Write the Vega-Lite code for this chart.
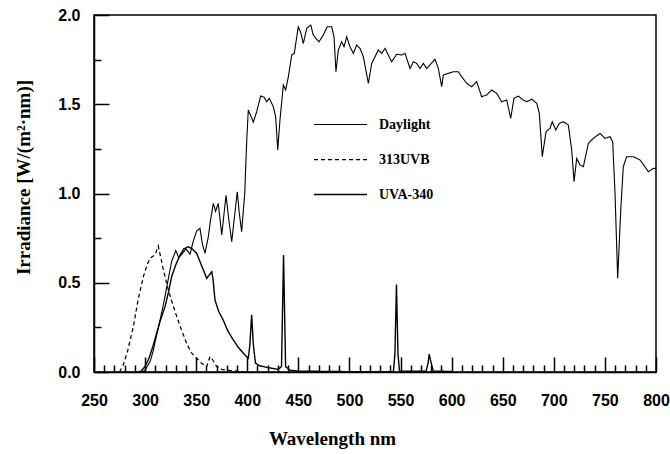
{
  "$schema": "https://vega.github.io/schema/vega-lite/v6.json",
  "width": 562,
  "height": 357,
  "autosize": {"type": "none"},
  "padding": {"left": 94, "top": 15, "right": 14, "bottom": 82},
  "background": "white",
  "config": {
    "view": {"stroke": "black", "strokeWidth": 1.5},
    "axis": {"grid": false, "ticks": true, "domainColor": "black", "domainWidth": 1.5, "tickColor": "black", "tickWidth": 1.5,
      "labelFont": "Liberation Sans", "labelFontWeight": "bold", "labelFontSize": 16, "labelColor": "black",
      "titleFont": "Liberation Serif", "titleFontWeight": "bold", "titleFontSize": 19, "titleColor": "black"},
    "legend": {"labelFont": "Liberation Serif", "labelFontWeight": "bold", "labelFontSize": 14, "labelColor": "black"}
  },
  "data": {"values": [
    {"wl":297,"v":0,"s":"Daylight"},{"wl":300,"v":0.01,"s":"Daylight"},{"wl":305,"v":0.06,"s":"Daylight"},{"wl":308,"v":0.12,"s":"Daylight"},{"wl":311,"v":0.2,"s":"Daylight"},{"wl":315,"v":0.3,"s":"Daylight"},{"wl":318,"v":0.38,"s":"Daylight"},{"wl":322,"v":0.5,"s":"Daylight"},{"wl":326,"v":0.62,"s":"Daylight"},{"wl":330,"v":0.68,"s":"Daylight"},{"wl":333,"v":0.64,"s":"Daylight"},{"wl":336,"v":0.66,"s":"Daylight"},{"wl":340,"v":0.69,"s":"Daylight"},{"wl":344,"v":0.66,"s":"Daylight"},{"wl":347,"v":0.73,"s":"Daylight"},{"wl":350.5,"v":0.79,"s":"Daylight"},{"wl":353.7,"v":0.805,"s":"Daylight"},{"wl":356,"v":0.72,"s":"Daylight"},{"wl":358.6,"v":0.665,"s":"Daylight"},{"wl":361.9,"v":0.758,"s":"Daylight"},{"wl":364,"v":0.85,"s":"Daylight"},{"wl":366.8,"v":0.945,"s":"Daylight"},{"wl":369,"v":0.9,"s":"Daylight"},{"wl":371.6,"v":0.945,"s":"Daylight"},{"wl":375,"v":0.768,"s":"Daylight"},{"wl":379.2,"v":0.99,"s":"Daylight"},{"wl":382,"v":0.85,"s":"Daylight"},{"wl":384.8,"v":0.73,"s":"Daylight"},{"wl":390.2,"v":1.01,"s":"Daylight"},{"wl":392,"v":0.9,"s":"Daylight"},{"wl":394.5,"v":0.786,"s":"Daylight"},{"wl":397.5,"v":1.0,"s":"Daylight"},{"wl":399.5,"v":1.3,"s":"Daylight"},{"wl":401,"v":1.468,"s":"Daylight"},{"wl":405.9,"v":1.4,"s":"Daylight"},{"wl":409.2,"v":1.458,"s":"Daylight"},{"wl":413.1,"v":1.546,"s":"Daylight"},{"wl":416.4,"v":1.539,"s":"Daylight"},{"wl":419,"v":1.514,"s":"Daylight"},{"wl":421.6,"v":1.533,"s":"Daylight"},{"wl":425.5,"v":1.486,"s":"Daylight"},{"wl":427.8,"v":1.43,"s":"Daylight"},{"wl":429.8,"v":1.244,"s":"Daylight"},{"wl":432,"v":1.412,"s":"Daylight"},{"wl":435.3,"v":1.608,"s":"Daylight"},{"wl":437.6,"v":1.58,"s":"Daylight"},{"wl":440.2,"v":1.654,"s":"Daylight"},{"wl":443.5,"v":1.776,"s":"Daylight"},{"wl":446,"v":1.785,"s":"Daylight"},{"wl":449.9,"v":1.934,"s":"Daylight"},{"wl":452.6,"v":1.897,"s":"Daylight"},{"wl":454.8,"v":1.84,"s":"Daylight"},{"wl":458.2,"v":1.925,"s":"Daylight"},{"wl":462.1,"v":1.944,"s":"Daylight"},{"wl":464.6,"v":1.888,"s":"Daylight"},{"wl":467,"v":1.87,"s":"Daylight"},{"wl":470.2,"v":1.85,"s":"Daylight"},{"wl":474.4,"v":1.888,"s":"Daylight"},{"wl":478.3,"v":1.934,"s":"Daylight"},{"wl":482.6,"v":1.934,"s":"Daylight"},{"wl":484.9,"v":1.878,"s":"Daylight"},{"wl":486.8,"v":1.682,"s":"Daylight"},{"wl":489.1,"v":1.804,"s":"Daylight"},{"wl":492.4,"v":1.85,"s":"Daylight"},{"wl":494.7,"v":1.822,"s":"Daylight"},{"wl":497.3,"v":1.878,"s":"Daylight"},{"wl":500.5,"v":1.822,"s":"Daylight"},{"wl":503.8,"v":1.785,"s":"Daylight"},{"wl":507.1,"v":1.832,"s":"Daylight"},{"wl":510.3,"v":1.813,"s":"Daylight"},{"wl":513.6,"v":1.766,"s":"Daylight"},{"wl":518.5,"v":1.617,"s":"Daylight"},{"wl":521.8,"v":1.729,"s":"Daylight"},{"wl":525,"v":1.766,"s":"Daylight"},{"wl":528.2,"v":1.804,"s":"Daylight"},{"wl":531.6,"v":1.785,"s":"Daylight"},{"wl":534.8,"v":1.813,"s":"Daylight"},{"wl":538,"v":1.776,"s":"Daylight"},{"wl":541.3,"v":1.738,"s":"Daylight"},{"wl":546.2,"v":1.78,"s":"Daylight"},{"wl":551.1,"v":1.776,"s":"Daylight"},{"wl":554.4,"v":1.785,"s":"Daylight"},{"wl":559.3,"v":1.7,"s":"Daylight"},{"wl":562.5,"v":1.738,"s":"Daylight"},{"wl":565.8,"v":1.729,"s":"Daylight"},{"wl":569,"v":1.7,"s":"Daylight"},{"wl":572.3,"v":1.729,"s":"Daylight"},{"wl":575.6,"v":1.7,"s":"Daylight"},{"wl":578.8,"v":1.72,"s":"Daylight"},{"wl":583.7,"v":1.752,"s":"Daylight"},{"wl":587,"v":1.7,"s":"Daylight"},{"wl":590.3,"v":1.598,"s":"Daylight"},{"wl":591.9,"v":1.664,"s":"Daylight"},{"wl":596.8,"v":1.673,"s":"Daylight"},{"wl":601.6,"v":1.682,"s":"Daylight"},{"wl":606.5,"v":1.682,"s":"Daylight"},{"wl":609.8,"v":1.654,"s":"Daylight"},{"wl":614.8,"v":1.617,"s":"Daylight"},{"wl":619.6,"v":1.598,"s":"Daylight"},{"wl":624.5,"v":1.626,"s":"Daylight"},{"wl":629.4,"v":1.542,"s":"Daylight"},{"wl":634.3,"v":1.552,"s":"Daylight"},{"wl":639.2,"v":1.58,"s":"Daylight"},{"wl":644.1,"v":1.561,"s":"Daylight"},{"wl":649,"v":1.514,"s":"Daylight"},{"wl":653.9,"v":1.524,"s":"Daylight"},{"wl":657.8,"v":1.421,"s":"Daylight"},{"wl":661,"v":1.533,"s":"Daylight"},{"wl":665.2,"v":1.546,"s":"Daylight"},{"wl":670.1,"v":1.524,"s":"Daylight"},{"wl":673.5,"v":1.514,"s":"Daylight"},{"wl":678.4,"v":1.528,"s":"Daylight"},{"wl":683.3,"v":1.505,"s":"Daylight"},{"wl":685.8,"v":1.449,"s":"Daylight"},{"wl":688.7,"v":1.206,"s":"Daylight"},{"wl":692.4,"v":1.346,"s":"Daylight"},{"wl":696.3,"v":1.365,"s":"Daylight"},{"wl":698.5,"v":1.402,"s":"Daylight"},{"wl":701.9,"v":1.356,"s":"Daylight"},{"wl":705.4,"v":1.393,"s":"Daylight"},{"wl":709.3,"v":1.402,"s":"Daylight"},{"wl":714.2,"v":1.384,"s":"Daylight"},{"wl":717.5,"v":1.244,"s":"Daylight"},{"wl":719.8,"v":1.066,"s":"Daylight"},{"wl":722.4,"v":1.197,"s":"Daylight"},{"wl":725.6,"v":1.16,"s":"Daylight"},{"wl":728.9,"v":1.15,"s":"Daylight"},{"wl":733.8,"v":1.281,"s":"Daylight"},{"wl":738.7,"v":1.309,"s":"Daylight"},{"wl":745.2,"v":1.337,"s":"Daylight"},{"wl":750.1,"v":1.309,"s":"Daylight"},{"wl":755,"v":1.318,"s":"Daylight"},{"wl":757.6,"v":1.29,"s":"Daylight"},{"wl":759.9,"v":1.001,"s":"Daylight"},{"wl":762.5,"v":0.525,"s":"Daylight"},{"wl":765.5,"v":0.908,"s":"Daylight"},{"wl":768,"v":1.15,"s":"Daylight"},{"wl":771.3,"v":1.206,"s":"Daylight"},{"wl":777.8,"v":1.206,"s":"Daylight"},{"wl":784.4,"v":1.188,"s":"Daylight"},{"wl":789.2,"v":1.15,"s":"Daylight"},{"wl":792.5,"v":1.122,"s":"Daylight"},{"wl":797.4,"v":1.141,"s":"Daylight"},{"wl":800,"v":1.14,"s":"Daylight"},

    {"wl":275,"v":0,"s":"313UVB"},{"wl":278.7,"v":0.04,"s":"313UVB"},{"wl":283,"v":0.12,"s":"313UVB"},{"wl":288.5,"v":0.254,"s":"313UVB"},{"wl":293,"v":0.4,"s":"313UVB"},{"wl":298.3,"v":0.534,"s":"313UVB"},{"wl":302,"v":0.6,"s":"313UVB"},{"wl":304.8,"v":0.637,"s":"313UVB"},{"wl":308,"v":0.65,"s":"313UVB"},{"wl":310,"v":0.66,"s":"313UVB"},{"wl":312.9,"v":0.706,"s":"313UVB"},{"wl":315,"v":0.65,"s":"313UVB"},{"wl":318,"v":0.57,"s":"313UVB"},{"wl":322.7,"v":0.46,"s":"313UVB"},{"wl":327,"v":0.38,"s":"313UVB"},{"wl":331,"v":0.31,"s":"313UVB"},{"wl":336,"v":0.23,"s":"313UVB"},{"wl":340.7,"v":0.16,"s":"313UVB"},{"wl":345,"v":0.11,"s":"313UVB"},{"wl":350.5,"v":0.077,"s":"313UVB"},{"wl":355,"v":0.05,"s":"313UVB"},{"wl":360.3,"v":0.03,"s":"313UVB"},{"wl":363.5,"v":0.086,"s":"313UVB"},{"wl":366,"v":0.07,"s":"313UVB"},{"wl":370,"v":0.03,"s":"313UVB"},{"wl":375,"v":0.015,"s":"313UVB"},{"wl":380,"v":0.01,"s":"313UVB"},{"wl":390,"v":0.005,"s":"313UVB"},{"wl":400,"v":0,"s":"313UVB"},

    {"wl":293,"v":0,"s":"UVA-340"},{"wl":296,"v":0.005,"s":"UVA-340"},{"wl":299.9,"v":0.03,"s":"UVA-340"},{"wl":304,"v":0.08,"s":"UVA-340"},{"wl":308,"v":0.15,"s":"UVA-340"},{"wl":311.3,"v":0.217,"s":"UVA-340"},{"wl":315,"v":0.29,"s":"UVA-340"},{"wl":319.5,"v":0.366,"s":"UVA-340"},{"wl":323,"v":0.45,"s":"UVA-340"},{"wl":326,"v":0.534,"s":"UVA-340"},{"wl":330,"v":0.6,"s":"UVA-340"},{"wl":334.2,"v":0.655,"s":"UVA-340"},{"wl":338,"v":0.69,"s":"UVA-340"},{"wl":342.3,"v":0.702,"s":"UVA-340"},{"wl":346,"v":0.69,"s":"UVA-340"},{"wl":350.5,"v":0.665,"s":"UVA-340"},{"wl":355,"v":0.6,"s":"UVA-340"},{"wl":360.3,"v":0.525,"s":"UVA-340"},{"wl":363,"v":0.545,"s":"UVA-340"},{"wl":365.2,"v":0.562,"s":"UVA-340"},{"wl":366.5,"v":0.52,"s":"UVA-340"},{"wl":368.4,"v":0.403,"s":"UVA-340"},{"wl":372,"v":0.34,"s":"UVA-340"},{"wl":376.5,"v":0.29,"s":"UVA-340"},{"wl":381,"v":0.23,"s":"UVA-340"},{"wl":386.3,"v":0.18,"s":"UVA-340"},{"wl":391,"v":0.14,"s":"UVA-340"},{"wl":396.1,"v":0.105,"s":"UVA-340"},{"wl":401,"v":0.077,"s":"UVA-340"},{"wl":402.5,"v":0.15,"s":"UVA-340"},{"wl":404.3,"v":0.32,"s":"UVA-340"},{"wl":406,"v":0.15,"s":"UVA-340"},{"wl":408,"v":0.05,"s":"UVA-340"},{"wl":412,"v":0.035,"s":"UVA-340"},{"wl":420,"v":0.025,"s":"UVA-340"},{"wl":430,"v":0.015,"s":"UVA-340"},{"wl":433.5,"v":0.03,"s":"UVA-340"},{"wl":435.5,"v":0.655,"s":"UVA-340"},{"wl":437.5,"v":0.03,"s":"UVA-340"},{"wl":442,"v":0.01,"s":"UVA-340"},{"wl":450,"v":0.005,"s":"UVA-340"},{"wl":500,"v":0.002,"s":"UVA-340"},{"wl":543,"v":0.002,"s":"UVA-340"},{"wl":544.5,"v":0.1,"s":"UVA-340"},{"wl":546,"v":0.49,"s":"UVA-340"},{"wl":547.5,"v":0.1,"s":"UVA-340"},{"wl":549,"v":0.005,"s":"UVA-340"},{"wl":575,"v":0.005,"s":"UVA-340"},{"wl":577,"v":0.05,"s":"UVA-340"},{"wl":578,"v":0.1,"s":"UVA-340"},{"wl":580,"v":0.05,"s":"UVA-340"},{"wl":582,"v":0.005,"s":"UVA-340"},{"wl":600,"v":0.003,"s":"UVA-340"}
  ]},
  "mark": {"type": "line", "color": "black", "clip": true},
  "encoding": {
    "x": {"field": "wl", "type": "quantitative",
      "scale": {"domain": [250, 800], "nice": false, "zero": false},
      "axis": {"title": "Wavelength nm",
        "values": [250,260,270,280,290,300,310,320,330,340,350,360,370,380,390,400,410,420,430,440,450,460,470,480,490,500,510,520,530,540,550,560,570,580,590,600,610,620,630,640,650,660,670,680,690,700,710,720,730,740,750,760,770,780,790,800],
        "labelExpr": "datum.value % 50 === 0 ? datum.label : ''",
        "tickSize": {"condition": {"test": "datum.value % 50 === 0", "value": -15}, "value": -7},
        "labelPadding": 35, "labelOverlap": false, "labelFlush": false,
        "titleX": 238, "titleY": 72, "titleBaseline": "alphabetic", "titleAnchor": "middle", "titleAlign": "center"}},
    "y": {"field": "v", "type": "quantitative",
      "scale": {"domain": [0, 2], "nice": false},
      "axis": {"title": "Irradiance [W/(m²·nm)]",
        "values": [0,0.25,0.5,0.75,1,1.25,1.5,1.75,2],
        "labelExpr": "round(datum.value * 2) === datum.value * 2 ? format(datum.value, '.1f') : ''",
        "tickSize": {"condition": {"test": "round(datum.value * 2) === datum.value * 2", "value": -15}, "value": -7},
        "labelPadding": 29, "labelOverlap": false, "labelFlush": false,
        "titleX": -71, "titleY": 162, "titleBaseline": "middle", "titleAngle": -90, "titleAlign": "center"}},
    "strokeDash": {"field": "s", "type": "nominal",
      "scale": {"domain": ["Daylight", "313UVB", "UVA-340"], "range": [[1, 0], [4, 3], [1, 0]]},
      "legend": {"title": null, "orient": "none", "legendX": 219, "legendY": 82, "symbolType": "stroke", "symbolSize": 2809, "symbolStrokeColor": "black", "rowPadding": -20, "labelOffset": 11, "padding": 0}},
    "strokeWidth": {"field": "s", "type": "nominal",
      "scale": {"domain": ["Daylight", "313UVB", "UVA-340"], "range": [1.1, 1.4, 2.4]},
      "legend": {"title": null, "orient": "none", "legendX": 219, "legendY": 82, "symbolType": "stroke", "symbolSize": 2809, "symbolStrokeColor": "black", "rowPadding": -20, "labelOffset": 11, "padding": 0}}
  }
}
